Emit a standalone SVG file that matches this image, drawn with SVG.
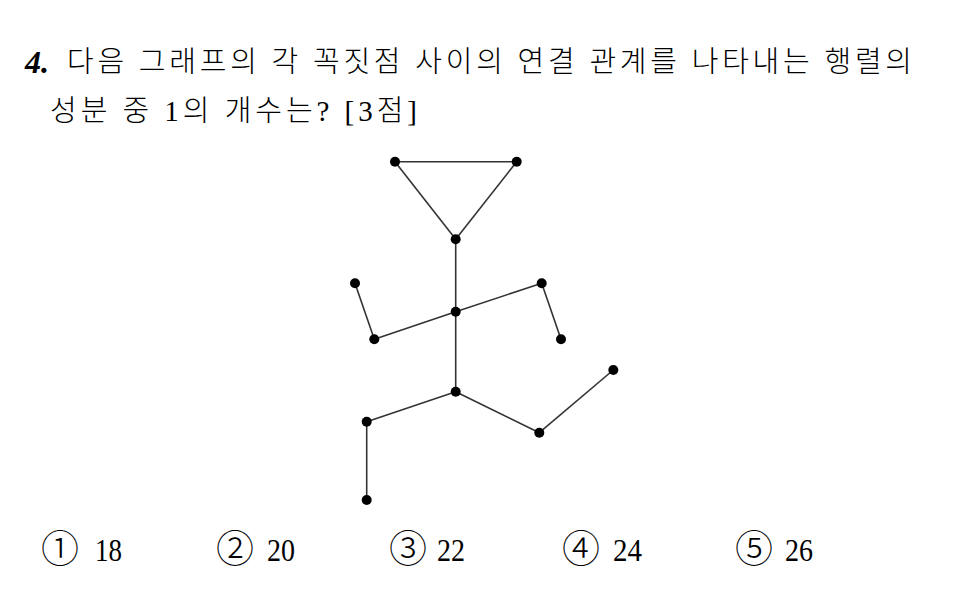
<svg xmlns="http://www.w3.org/2000/svg" width="960" height="613" viewBox="0 0 960 613">
<style>
.t{font-family:"Liberation Serif","Noto Sans CJK KR",serif;font-weight:300;fill:#000}
.k{font-family:"Noto Sans CJK KR","Liberation Serif",serif;font-weight:300;fill:#000}
.n{font-family:"Liberation Serif",serif;fill:#000}
.e{stroke:#333;stroke-width:1.6;fill:none}
.v{fill:#000}
</style>
<rect width="960" height="613" fill="#fff"/>
<text class="n" x="25" y="73" font-size="32" font-weight="bold" font-style="italic">4.</text>
<text class="t" x="67" y="72" font-size="29" textLength="845" lengthAdjust="spacing">다음 그래프의 각 꼭짓점 사이의 연결 관계를 나타내는 행렬의</text>
<text class="t" x="50" y="121" font-size="29" textLength="367" lengthAdjust="spacing">성분 중 1의 개수는? [3점]</text>
<g id="connectors">
<line class="e" x1="395" y1="161.7" x2="516.7" y2="161.7"/>
<line class="e" x1="395" y1="161.7" x2="455.7" y2="239.3"/>
<line class="e" x1="516.7" y1="161.7" x2="455.7" y2="239.3"/>
<line class="e" x1="455.7" y1="239.3" x2="455.7" y2="311.7"/>
<line class="e" x1="455.7" y1="311.7" x2="455.7" y2="391.7"/>
<line class="e" x1="455.7" y1="311.7" x2="374.3" y2="339.3"/>
<line class="e" x1="455.7" y1="311.7" x2="541.7" y2="283.3"/>
<line class="e" x1="355" y1="283.3" x2="374.3" y2="339.3"/>
<line class="e" x1="541.7" y1="283.3" x2="561" y2="339.3"/>
<line class="e" x1="455.7" y1="391.7" x2="366.7" y2="421.7"/>
<line class="e" x1="366.7" y1="421.7" x2="366.7" y2="500"/>
<line class="e" x1="455.7" y1="391.7" x2="539.3" y2="432.7"/>
<line class="e" x1="539.3" y1="432.7" x2="613.3" y2="370"/>
</g>
<g id="nA"><circle class="v" cx="395" cy="161.7" r="5"/></g>
<g id="nB"><circle class="v" cx="516.7" cy="161.7" r="5"/></g>
<g id="nC"><circle class="v" cx="455.7" cy="239.3" r="5"/></g>
<g id="nD"><circle class="v" cx="355" cy="283.3" r="5"/></g>
<g id="nE"><circle class="v" cx="455.7" cy="311.7" r="5"/></g>
<g id="nF"><circle class="v" cx="541.7" cy="283.3" r="5"/></g>
<g id="nG"><circle class="v" cx="374.3" cy="339.3" r="5"/></g>
<g id="nH"><circle class="v" cx="561" cy="339.3" r="5"/></g>
<g id="nI"><circle class="v" cx="455.7" cy="391.7" r="5"/></g>
<g id="nJ"><circle class="v" cx="613.3" cy="370" r="5"/></g>
<g id="nK"><circle class="v" cx="366.7" cy="421.7" r="5"/></g>
<g id="nL"><circle class="v" cx="539.3" cy="432.7" r="5"/></g>
<g id="nM"><circle class="v" cx="366.7" cy="500" r="5"/></g>
<g id="choices">
<text class="k" x="60" y="562" font-size="38" text-anchor="middle">①</text>
<text class="n" x="95" y="561" font-size="32" textLength="27" lengthAdjust="spacingAndGlyphs">18</text>
<text class="k" x="235" y="562" font-size="38" text-anchor="middle">②</text>
<text class="n" x="267" y="561" font-size="32" textLength="28" lengthAdjust="spacingAndGlyphs">20</text>
<text class="k" x="408" y="562" font-size="38" text-anchor="middle">③</text>
<text class="n" x="437" y="561" font-size="32" textLength="28" lengthAdjust="spacingAndGlyphs">22</text>
<text class="k" x="581" y="562" font-size="38" text-anchor="middle">④</text>
<text class="n" x="613" y="561" font-size="32" textLength="29" lengthAdjust="spacingAndGlyphs">24</text>
<text class="k" x="754" y="562" font-size="38" text-anchor="middle">⑤</text>
<text class="n" x="785" y="561" font-size="32" textLength="28" lengthAdjust="spacingAndGlyphs">26</text>
</g>
</svg>
